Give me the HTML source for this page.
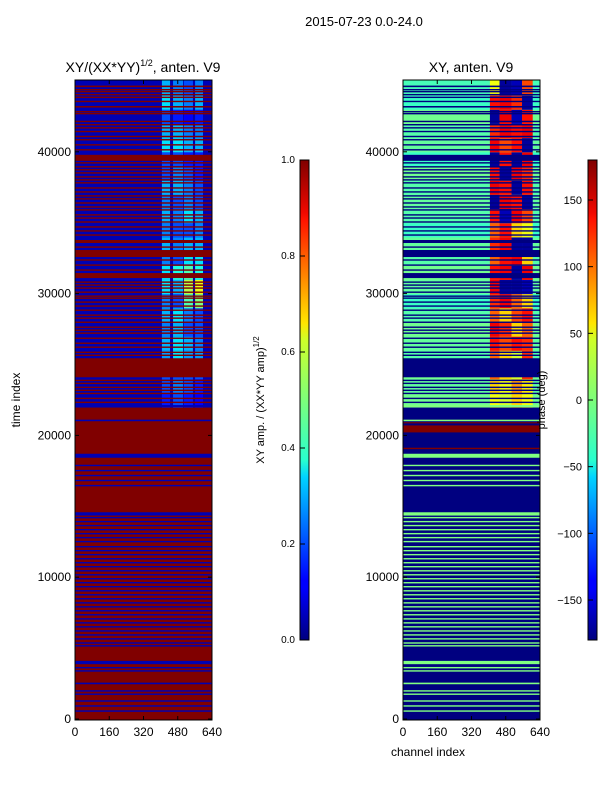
<!DOCTYPE html>
<html><head><meta charset="utf-8"><style>
body{margin:0;background:#fff;width:600px;height:800px;overflow:hidden}
svg{display:block;font-family:"Liberation Sans",sans-serif}
</style></head><body>
<svg id="fig" width="600" height="800" viewBox="0 0 600 800">
<defs>
<linearGradient id="jet" x1="0" y1="1" x2="0" y2="0">
<stop offset="0" stop-color="#00007f"/><stop offset="0.11" stop-color="#0000ff"/><stop offset="0.125" stop-color="#0000ff"/>
<stop offset="0.34" stop-color="#00d4ff"/><stop offset="0.375" stop-color="#29ffce"/><stop offset="0.5" stop-color="#7dff7a"/>
<stop offset="0.625" stop-color="#ceff29"/><stop offset="0.66" stop-color="#ffe600"/><stop offset="0.875" stop-color="#ff1300"/>
<stop offset="0.89" stop-color="#f10800"/><stop offset="1" stop-color="#800000"/></linearGradient>
<clipPath id="cl"><rect x="75" y="80" width="137" height="640"/></clipPath>
<clipPath id="cr"><rect x="403" y="80" width="137" height="640"/></clipPath>
</defs>
<text x="364" y="26" font-size="13" text-anchor="middle">2015-07-23 0.0-24.0</text>
<text x="143" y="72" font-size="14" text-anchor="middle">XY/(XX*YY)<tspan dy="-6" font-size="9">1/2</tspan><tspan dy="6">, anten. V9</tspan></text>
<text x="471" y="72" font-size="14" text-anchor="middle">XY, anten. V9</text>
<g id="left" clip-path="url(#cl)"></g>
<g id="right" clip-path="url(#cr)"></g>
<g id="axes"></g>
<text x="20" y="400" font-size="12" text-anchor="middle" transform="rotate(-90 20 400)">time index</text>
<text x="428" y="756" font-size="12" text-anchor="middle">channel index</text>
<rect x="300" y="160" width="9" height="480" fill="url(#jet)" stroke="#000" stroke-width="1"/>
<rect x="588" y="160" width="9" height="480" fill="url(#jet)" stroke="#000" stroke-width="1"/>
<text x="264" y="400" font-size="11" text-anchor="middle" transform="rotate(-90 264 400)">XY amp. / (XX*YY amp)<tspan dy="-5" font-size="8">1/2</tspan></text>
<text x="545" y="400" font-size="11" text-anchor="middle" transform="rotate(-90 545 400)">phase (deg)</text>
<g id="cbt"></g>
</svg>
<script>
const yTicks=[0,10000,20000,30000,40000];
const xTicks=[0,160,320,480,640];
const ampCbTicks=["0.0","0.2","0.4","0.6","0.8","1.0"];
const phaseCbTicks=[-150,-100,-50,0,50,100,150];
const flagRanges=[[44560,44670],[44330,44430],[44190,44290],[43980,44080],[43790,43890],[43500,43600],[43120,43230],[42780,42880],[42640,42740],[42090,42190],[41860,41960],[41640,41740],[41380,41480],[41030,41130],[40800,40900],[40440,40540],[40090,40190],[39363,39787],[39170,39270],[38890,38990],[38680,38780],[38460,38560],[38180,38280],[37970,38070],[37760,37860],[37400,37500],[37120,37220],[36840,36940],[36630,36730],[36340,36440],[36060,36160],[35850,35950],[35500,35600],[35280,35380],[35000,35100],[34650,34750],[34370,34470],[34080,34180],[33568,33780],[33230,33330],[32579,33074],[32320,32420],[31960,32060],[31610,31710],[31095,31448],[30760,30860],[30550,30650],[30340,30440],[30050,30150],[29770,29870],[29630,29730],[29350,29450],[29070,29170],[28780,28880],[28430,28530],[28220,28320],[27930,28030],[27580,27680],[27370,27470],[27160,27260],[26800,26900],[26450,26550],[26170,26270],[25810,25910],[25600,25700],[24098,25441],[23830,23930],[23620,23720],[23340,23440],[23130,23230],[22910,23010],[22560,22660],[22280,22380]];
const goodLines=[[21990,22140],[21000,21110],[18424,18706],[17830,17930],[17470,17570],[17120,17220],[16770,16870],[16410,16510],[14346,14579],[14150,14250],[13870,13970],[13590,13690],[13300,13400],[13020,13120],[12740,12840],[12460,12560],[12100,12200],[11820,11920],[11540,11640],[11250,11350],[10970,11070],[10690,10790],[10400,10500],[10120,10220],[9840,9940],[9560,9660],[9280,9380],[8990,9090],[8710,8810],[8430,8530],[8140,8240],[7860,7960],[7580,7680],[7300,7400],[7010,7110],[6730,6830],[6450,6550],[6160,6260],[5880,5980],[5600,5700],[5310,5410],[5110,5210],[3866,4099],[3570,3670],[3340,3440],[2452,2565],[1930,2030],[1700,1800],[1220,1320],[870,970],[510,610]];
const redPhaseRanges=[[20211,20706],[20850,20930],[19030,19130]];
const hotCols=[[406,444],[458,505],[509,551],[561,598]];
const hotAmp=[[0.15,0.2,0.15,0.12],[0.2,0.25,0.2,0.15],[0.2,0.2,0.2,0.2],[0.28,0.35,0.28,0.28],[0.3,0.35,0.3,0.25],[0.25,0.3,0.2,0.2],[0.3,0.35,0.25,0.2],[0.25,0.2,0.45,0.5],[0.35,0.3,0.55,0.6],[0.35,0.4,0.45,0.4],[0.25,0.2,0.35,0.35],[0.3,0.25,0.3,0.3],[0.25,0.2,0.2,0.25],[0.3,0.25,0.35,0.3],[0.25,0.2,0.25,0.2],[0.3,0.3,0.25,0.2],[0.2,0.25,0.2,0.15],[0.2,0.2,0.15,0.15],[0.35,0.35,0.3,0.3],[0.3,0.3,0.25,0.25],[0.2,0.15,0.12,0.15],[0.35,0.3,0.25,0.3],[0.3,0.25,0.2,0.25]];
const hotPhase=[[40,30,60,40],[60,40,80,50],[100,60,30,120],[100,60,30,120],[130,110,130,120],[140,120,60,100],[100,60,110,130],[120,140,100,60],[140,-170,-170,-160],[130,140,-170,140],[100,130,140,60],[120,140,-170,-170],[100,130,60,40],[130,-160,140,110],[-170,140,130,-170],[140,130,-170,130],[130,-170,140,120],[-170,130,-170,140],[140,110,130,-170],[120,140,130,140],[-170,140,-160,130],[130,140,120,-170],[40,-170,-160,110]];
const bgPhase=[-5,-10,-5,-15,-10,-5,-15,-25,-10,-5,-15,-10,-25,-15,-10,-15,-5,-25,-10,-15,-5,-25,-20];
const blockStart=22000, blockSize=1000, splitT=22200, tMax=45200;
const NS="http://www.w3.org/2000/svg";
function ys(t){return 719-t*0.01418;}
function xl(c){return 75+c/640*137;}
function xr(c){return 403+c/640*137;}
function jet(v){v=Math.max(0,Math.min(1,v));
 const f=x=>Math.round(255*Math.max(0,Math.min(1,x)));
 const r=Math.min(4*v-1.5,-4*v+4.5),g=Math.min(4*v-0.5,-4*v+3.5),b=Math.min(4*v+0.5,-4*v+2.5);
 return `rgb(${f(r)},${f(g)},${f(b)})`;}
function ph(p){return jet((p+180)/360);}
function rect(g,x,y,w,h,fill,name){const r=document.createElementNS(NS,'rect');
 r.setAttribute('x',x);r.setAttribute('y',y);r.setAttribute('width',w);r.setAttribute('height',h);r.setAttribute('fill',fill);
 
 
 g.appendChild(r);return r;}
const L=document.getElementById('left'),R=document.getElementById('right');
const GOODL=jet(0.05),FLAGL=jet(1),FLAGR=ph(-180);
rect(L,75,ys(splitT),137,ys(0)-ys(splitT)+2,FLAGL,'flagged-region');
rect(R,403,ys(splitT),137,ys(0)-ys(splitT)+2,FLAGR,'flagged-region');
bgPhase.forEach((p,i)=>{const t0=blockStart+i*blockSize,t1=i==bgPhase.length-1?tMax:t0+blockSize;
 const y=ys(t1),h=ys(t0)-ys(t1)+0.5;
 rect(L,75,y,137,h,GOODL,'amp-row-block');
 rect(R,403,y,137,h,ph(p),'phase-row-block');
 hotCols.forEach((c,j)=>{
  rect(L,xl(c[0]),y,xl(c[1])-xl(c[0]),h,jet(hotAmp[i][j]),'amp-cell');
  const c0=j==0?c[0]:(hotCols[j-1][1]+c[0])/2, c1=j==hotCols.length-1?c[1]+8:(c[1]+hotCols[j+1][0])/2;
  rect(R,xr(c0),y,xr(c1)-xr(c0),h,ph(hotPhase[i][j]),'phase-cell');
 });
});
flagRanges.forEach(f=>{const y=ys(f[1]),h=ys(f[0])-ys(f[1]);
 rect(L,75,y,137,h,FLAGL,'flagged-row');
 rect(R,403,y,137,h,FLAGR,'flagged-row');});
goodLines.forEach(f=>{const y=ys(f[1]),h=ys(f[0])-ys(f[1]);
 rect(L,75,y,137,h,GOODL,'good-row');
 rect(R,403,y,137,h,ph(0),'good-row');});
redPhaseRanges.forEach(f=>{const y=ys(f[1]),h=ys(f[0])-ys(f[1]);
 rect(R,403,y,137,h,ph(180),'wrapped-phase-row');});
const A=document.getElementById('axes');
function line(g,x1,y1,x2,y2,name){const l=document.createElementNS(NS,'line');
 l.setAttribute('x1',x1);l.setAttribute('y1',y1);l.setAttribute('x2',x2);l.setAttribute('y2',y2);l.setAttribute('stroke','#000');
 
 
 g.appendChild(l);}
function text(g,x,y,s,anchor,size,name){const t=document.createElementNS(NS,'text');
 t.setAttribute('x',x);t.setAttribute('y',y);t.setAttribute('font-size',size);t.setAttribute('text-anchor',anchor);t.textContent=s;
 
 
 g.appendChild(t);}
[[75,xl],[403,xr]].forEach(([x0,xf],k)=>{
 const fr=rect(A,x0,80,137,640,'none','axes-frame');fr.setAttribute('stroke','#000');
 yTicks.forEach(t=>{const y=ys(t);line(A,x0,y,x0+4,y,'y-tick');line(A,x0+137,y,x0+133,y,'y-tick');
  text(A,x0-4,y+4,String(t),'end',12,'y-tick-label');});
 xTicks.forEach(c=>{const x=xf(c);line(A,x,720,x,716,'x-tick');line(A,x,80,x,84,'x-tick');
  text(A,x,736,String(c),'middle',12,'x-tick-label');});
});
const C=document.getElementById('cbt');
ampCbTicks.forEach((s,i)=>{const y=640-i*(480/(ampCbTicks.length-1));
 line(C,300,y,305,y,'colorbar-tick');text(C,295,y+3,s,'end',10,'colorbar-tick-label');});
phaseCbTicks.forEach(p=>{const y=400-p*(480/360);
 line(C,588,y,593,y,'colorbar-tick');text(C,582,y+4,String(p).replace('-','\u2212'),'end',11,'colorbar-tick-label');});
</script>
</body></html>
